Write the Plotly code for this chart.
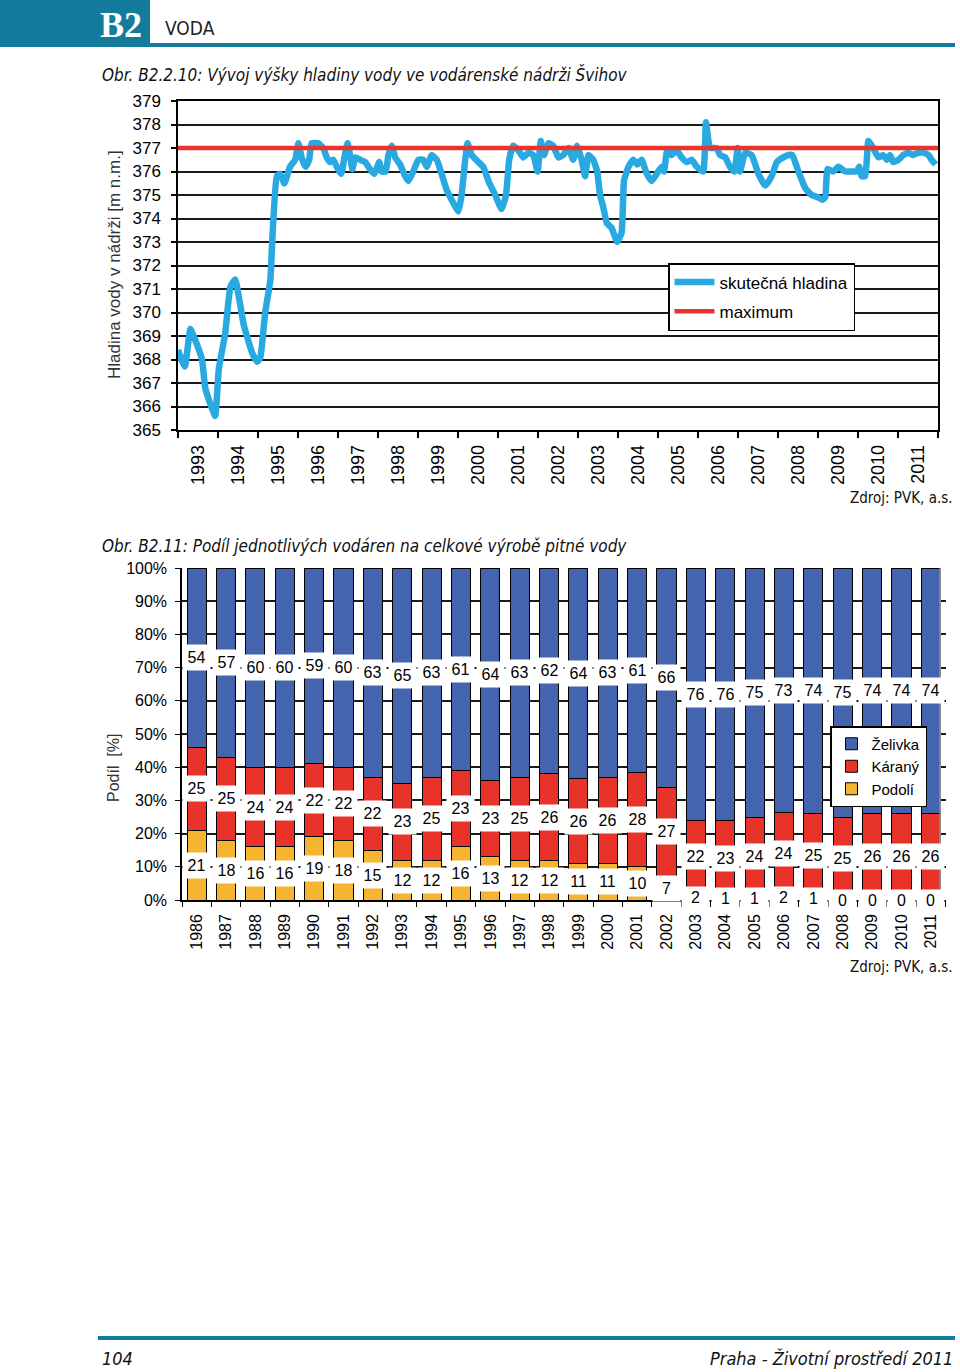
import plotly.graph_objects as go

# ---------------- data: chart 1 (water level, Švihov) ----------------
level_time = [1993.00, 1993.17, 1993.31, 1993.39, 1993.60, 1993.68, 1993.81, 1993.93, 1994.02, 1994.18,
              1994.31, 1994.43, 1994.64, 1994.85, 1994.98, 1995.06, 1995.18, 1995.31, 1995.36, 1995.47,
              1995.55, 1995.66, 1995.80, 1995.93, 1996.01, 1996.09, 1996.19, 1996.28, 1996.34, 1996.51,
              1996.63, 1996.72, 1996.80, 1996.88, 1996.97, 1997.08, 1997.16, 1997.24, 1997.30, 1997.36,
              1997.43, 1997.55, 1997.68, 1997.80, 1997.91, 1998.03, 1998.09, 1998.19, 1998.26, 1998.34,
              1998.43, 1998.55, 1998.68, 1998.76, 1998.88, 1999.01, 1999.13, 1999.22, 1999.34, 1999.47,
              1999.59, 1999.72, 1999.84, 2000.01, 2000.09, 2000.18, 2000.24, 2000.34, 2000.51, 2000.63,
              2000.76, 2000.93, 2001.09, 2001.20, 2001.28, 2001.38, 2001.51, 2001.63, 2001.76, 2001.88,
              2001.99, 2002.07, 2002.15, 2002.26, 2002.38, 2002.51, 2002.63, 2002.76, 2002.88, 2002.98,
              2003.09, 2003.18, 2003.26, 2003.38, 2003.48, 2003.55, 2003.63, 2003.72, 2003.84, 2003.98,
              2004.09, 2004.15, 2004.26, 2004.38, 2004.48, 2004.59, 2004.72, 2004.84, 2004.97, 2005.09,
              2005.15, 2005.23, 2005.34, 2005.47, 2005.59, 2005.72, 2005.84, 2005.97, 2006.13, 2006.20,
              2006.30, 2006.47, 2006.55, 2006.68, 2006.80, 2006.91, 2006.99, 2007.05, 2007.18, 2007.34,
              2007.51, 2007.68, 2007.84, 2007.97, 2008.13, 2008.26, 2008.36, 2008.51, 2008.68, 2008.84,
              2009.01, 2009.11, 2009.18, 2009.24, 2009.38, 2009.51, 2009.68, 2009.84, 2009.97, 2010.03,
              2010.09, 2010.18, 2010.26, 2010.38, 2010.51, 2010.63, 2010.72, 2010.80, 2010.88, 2011.01,
              2011.13, 2011.26, 2011.38, 2011.51, 2011.63, 2011.76, 2011.84, 2011.94]
level_m = [368.4, 367.7, 369.3, 369.0, 368.0, 366.8, 366.1, 365.6, 367.6, 369.1,
           371.1, 371.4, 369.5, 368.3, 367.9, 368.1, 370.0, 371.4, 373.2, 375.8,
           375.9, 375.5, 376.2, 376.5, 377.2, 376.6, 376.2, 376.5, 377.2, 377.2,
           377.0, 376.6, 376.4, 376.5, 376.2, 375.9, 376.6, 377.2, 376.7, 376.1,
           376.6, 376.5, 376.4, 376.1, 375.9, 376.4, 376.0, 376.0, 376.7, 377.1,
           376.6, 376.3, 375.8, 375.6, 376.0, 376.5, 376.5, 376.2, 376.7, 376.5,
           375.9, 375.2, 374.8, 374.3, 375.0, 376.5, 377.2, 376.7, 376.4, 376.2,
           375.6, 375.0, 374.4, 375.0, 376.5, 377.1, 376.9, 376.6, 376.8, 376.7,
           376.0, 377.3, 376.7, 377.2, 377.1, 376.6, 376.7, 377.0, 376.5, 377.1,
           376.5, 375.8, 376.7, 376.5, 376.0, 375.0, 374.5, 373.8, 373.6, 373.0,
           373.4, 375.6, 376.2, 376.5, 376.3, 376.5, 375.9, 375.6, 375.9, 376.2,
           376.0, 376.9, 376.7, 376.9, 376.6, 376.4, 376.5, 376.2, 376.0, 378.1,
           377.0, 377.0, 376.7, 376.6, 376.2, 376.0, 377.0, 376.0, 376.8, 376.7,
           375.9, 375.4, 375.8, 376.4, 376.6, 376.7, 376.7, 376.0, 375.3, 375.0,
           374.9, 374.8, 374.9, 376.1, 376.0, 376.2, 376.0, 376.0, 376.0, 376.2,
           375.8, 375.8, 377.3, 377.0, 376.6, 376.7, 376.5, 376.7, 376.4, 376.5,
           376.7, 376.8, 376.7, 376.8, 376.8, 376.7, 376.5, 376.3]
max_time = [1993, 2012]
max_level = [377, 377]
line_years = [str(y) for y in range(1993, 2012)]
level_ticks = list(range(365, 380))

# ---------------- data: chart 2 (shares of waterworks) ----------------
bar_years = [str(y) for y in range(1986, 2012)]
zelivka = [54, 57, 60, 60, 59, 60, 63, 65, 63, 61, 64, 63, 62, 64, 63, 61, 66, 76, 76, 75, 73, 74, 75, 74, 74, 74]
karany = [25, 25, 24, 24, 22, 22, 22, 23, 25, 23, 23, 25, 26, 26, 26, 28, 27, 22, 23, 24, 24, 25, 25, 26, 26, 26]
podoli = [21, 18, 16, 16, 19, 18, 15, 12, 12, 16, 13, 12, 12, 11, 11, 10, 7, 2, 1, 1, 2, 1, 0, 0, 0, 0]
pct_ticks = list(range(0, 101, 10))

# ---------------- styling ----------------
W, H = 960, 1372
ARIAL = "Liberation Sans, Arial, sans-serif"
NARROW = "Liberation Sans Narrow, DejaVu Sans Condensed, Liberation Sans, sans-serif"
TEAL = "#137b9b"
BLUE_LINE = "#29a9e1"
RED_LINE = "#e8342c"
C_Z = "#4464ae"
C_K = "#e8332a"
C_P = "#f6b531"


def fx(px):
    return px / W


def fy(py):
    return 1 - py / H


fig = go.Figure()

# chart 1
fig.add_trace(go.Scatter(x=level_time, y=level_m, mode="lines", name="skutečná hladina",
                         line=dict(color=BLUE_LINE, width=6.5, shape="spline", smoothing=0.4),
                         xaxis="x", yaxis="y", legend="legend", legendgroup="a"))
fig.add_trace(go.Scatter(x=max_time, y=max_level, mode="lines", name="maximum",
                         line=dict(color=RED_LINE, width=4.5),
                         xaxis="x", yaxis="y", legend="legend", legendgroup="b"))

# chart 2
for name, vals, col in [("Podolí", podoli, C_P), ("Káraný", karany, C_K), ("Želivka", zelivka, C_Z)]:
    fig.add_trace(go.Bar(x=bar_years, y=vals, name=name, marker=dict(color=col, line=dict(color="black", width=1)),
                         xaxis="x2", yaxis="y2", legend="legend2"))

annotations = []
# value labels with white boxes (at segment centres, normalised to 100 %)
for i, yr in enumerate(bar_years):
    tot = zelivka[i] + karany[i] + podoli[i]
    p = podoli[i] / tot * 100
    k = karany[i] / tot * 100
    z = zelivka[i] / tot * 100
    for val, c in [(podoli[i], p / 2), (karany[i], p + k / 2), (zelivka[i], p + k + z / 2)]:
        annotations.append(dict(x=i, y=c, xref="x2", yref="y2", text=str(val), showarrow=False,
                                xanchor="center", yanchor="middle",
                                bgcolor="white", width=27, height=20 if c < 3 else 25, borderpad=0,
                                font=dict(family=ARIAL, size=16, color="black")))


def ptxt(x, y, text, size, family=NARROW, color="#111", xanchor="left", angle=0):
    return dict(x=fx(x), y=fy(y), xref="paper", yref="paper", text=text, showarrow=False,
                xanchor=xanchor, yanchor="middle", textangle=angle,
                font=dict(family=family, size=size, color=color))


annotations += [
    ptxt(121, 25, "<b>B2</b>", 36, family="Liberation Serif, serif", color="white", xanchor="center"),
    ptxt(163, 28, "VODA", 19, color="#222"),
    ptxt(100, 75, "<i>Obr. B2.2.10: Vývoj výšky hladiny vody ve vodárenské nádrži Švihov</i>", 17),
    ptxt(955, 498, "Zdroj: PVK, a.s.", 15, xanchor="right"),
    ptxt(100, 546, "<i>Obr. B2.11: Podíl jednotlivých vodáren na celkové výrobě pitné vody</i>", 17),
    ptxt(955, 967, "Zdroj: PVK, a.s.", 15, xanchor="right"),
    ptxt(100, 1358, "<i>104</i>", 18),
    ptxt(955, 1358, "<i>Praha - Životní prostředí 2011</i>", 18, xanchor="right"),
    ptxt(115, 265, "Hladina vody v nádrži [m n.m.]", 17, family=ARIAL, color="#333", xanchor="center", angle=-90),
    ptxt(113, 768, "Podíl\u00a0 [%]", 16, family=ARIAL, color="#333", xanchor="center", angle=-90),
]

shapes = [
    dict(type="rect", xref="paper", yref="paper", x0=fx(0), x1=fx(150), y0=fy(0), y1=fy(47),
         fillcolor=TEAL, line=dict(width=0), layer="below"),
    dict(type="rect", xref="paper", yref="paper", x0=fx(150), x1=fx(955), y0=fy(43), y1=fy(47),
         fillcolor=TEAL, line=dict(width=0)),
    dict(type="rect", xref="paper", yref="paper", x0=fx(98), x1=fx(955), y0=fy(1336), y1=fy(1340),
         fillcolor=TEAL, line=dict(width=0)),
    dict(type="line", xref="x2 domain", yref="y2 domain", x0=0.993, x1=0.993, y0=0, y1=1,
         line=dict(color="#999", width=1.5)),
]

fig.update_layout(
    width=W, height=H, margin=dict(l=0, r=0, t=0, b=0, pad=0, autoexpand=False),
    paper_bgcolor="white", plot_bgcolor="white",
    barmode="stack", barnorm="percent", bargap=0.35,
    font=dict(family=ARIAL, color="black"),
    annotations=annotations, shapes=shapes,
    xaxis=dict(domain=[fx(178), fx(938)], range=[1993, 2012], automargin=False, anchor="y",
               tickmode="array", tickvals=[y + 0.5 for y in range(1993, 2012)], ticktext=line_years,
               ticks="", tickangle=-90, tickfont=dict(family=ARIAL, size=18, color="black"),
               showgrid=False, zeroline=False, showline=True, linecolor="black", linewidth=1.5, mirror=True,
               minor=dict(tickmode="array", tickvals=list(range(1993, 2013)), ticks="outside", ticklen=6,
                          tickcolor="black", tickwidth=1.5, showgrid=False),
               ticklabelstandoff=6),
    yaxis=dict(domain=[fy(430), fy(101)], range=[365, 379], tickmode="array", tickvals=level_ticks,
               automargin=False, anchor="x",
               ticks="outside", ticklen=5, tickcolor="black", tickwidth=1.5,
               tickfont=dict(family=ARIAL, size=17, color="black"),
               showgrid=True, gridcolor="#1a1a1a", gridwidth=1.5, zeroline=False,
               showline=True, linecolor="black", linewidth=1.5, mirror=True, ticklabelstandoff=7),
    xaxis2=dict(domain=[fx(182), fx(945.5)], type="category", range=[-0.5, 25.5], automargin=False,
                anchor="y2", ticks="outside", tickson="boundaries",
                ticklen=5, tickcolor="black", tickangle=-90, tickfont=dict(family=ARIAL, size=16, color="black"),
                showgrid=False, showline=True, linecolor="black", linewidth=1.5, ticklabelstandoff=6),
    yaxis2=dict(domain=[fy(900), fy(568)], range=[0, 100], tickmode="array", tickvals=pct_ticks,
                automargin=False, anchor="x2",
                ticktext=[f"{v}%" for v in pct_ticks], ticks="outside", ticklen=5, tickcolor="black",
                tickfont=dict(family=ARIAL, size=16, color="black"),
                showgrid=False, zeroline=False, showline=True, linecolor="black", linewidth=1.5,
                minor=dict(tickmode="array", tickvals=pct_ticks[1:-1], showgrid=True, gridcolor="#1a1a1a",
                           gridwidth=1.5, ticks=""),
                ticklabelstandoff=5),
    legend=dict(x=fx(668), y=fy(263), xanchor="left", yanchor="top", bgcolor="white",
                bordercolor="black", borderwidth=1.5, font=dict(family=ARIAL, size=17, color="black"),
                tracegroupgap=4, itemwidth=40),
    legend2=dict(x=fx(830), y=fy(726), xanchor="left", yanchor="top", bgcolor="white",
                 bordercolor="black", borderwidth=1.5, font=dict(family=ARIAL, size=15, color="black"),
                 traceorder="reversed"),
)

fig.write_html("out.html", config={"displayModeBar": False},
               post_script="document.body.style.margin='0';")
